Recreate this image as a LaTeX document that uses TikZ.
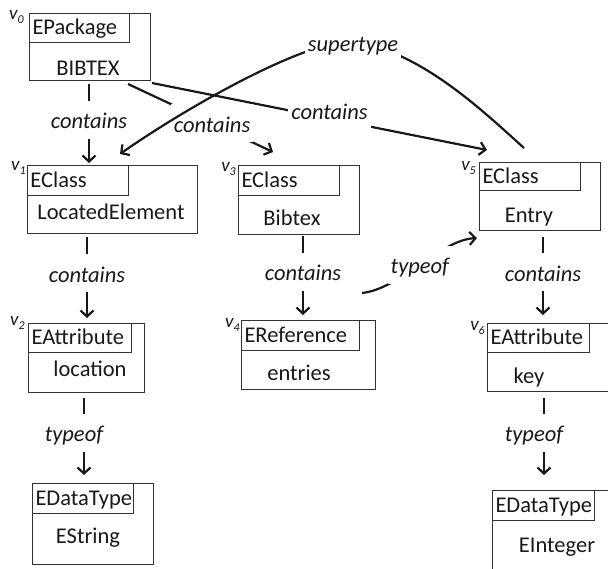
\documentclass[tikz,border=0pt]{standalone}
\usepackage{fontspec}
\setmainfont{Carlito}
\usetikzlibrary{calc,arrows.meta}
\begin{document}
\begin{tikzpicture}[x=1pt,y=-1pt,
  box/.style={draw=black!80, line width=1pt, inner sep=0pt, anchor=north west},
  hdr/.style={draw=black!80, line width=1pt, inner xsep=3pt, inner ysep=0pt, anchor=north west,
    align=left, font=\fontsize{22.5pt}{26pt}\selectfont, text=black!90, text height=13pt, text depth=0pt},
  body/.style={anchor=base, inner sep=0pt, font=\fontsize{22.5pt}{26pt}\selectfont, text=black!90},
  vl/.style={anchor=base east, inner sep=0pt, font=\fontsize{19pt}{21pt}\selectfont\itshape, text=black!90},
  conn/.style={line width=2.2pt, draw=black!90},
  arr/.style={conn, -{Straight Barb[length=6pt,width=13pt]}},
  lbl/.style={fill=white, inner xsep=3pt, inner ysep=10pt, text height=18pt, text depth=0pt,
    font=\fontsize{22.5pt}{26pt}\selectfont\itshape, text=black!90}
]
\useasboundingbox (0,0) rectangle (608,568);
\clip (0,0) rectangle (608,568);

% v0
\node[box, minimum width=121, minimum height=67] (v0) at (29,13) {};
\node[hdr, text width=94, minimum height=29] (v0h) at (v0.north west) {EPackage};
\node[body] (v0n) at (88,75) {BIBTEX};
\node[vl] (v0l) at ($(v0.north west)+(-5,6.5)$) {v\raisebox{-4pt}{\fontsize{12pt}{12pt}\selectfont 0}};

% v1
\node[box, minimum width=170, minimum height=68] (v1) at (27,165) {};
\node[hdr, text width=95, minimum height=30] (v1h) at (v1.north west) {EClass};
\node[body] (v1n) at (111,219) {LocatedElement};
\node[vl] (v1l) at ($(v1.north west)+(-1,5)$) {v\raisebox{-4pt}{\fontsize{12pt}{12pt}\selectfont 1}};

% v2
\node[box, minimum width=116, minimum height=69] (v2) at (28,323) {};
\node[hdr, text width=97, minimum height=29] (v2h) at (v2.north west) {EAttribute};
\node[body] (v2n) at (90,376) {location};
\node[vl] (v2l) at ($(v2.north west)+(-3,2)$) {v\raisebox{-4pt}{\fontsize{12pt}{12pt}\selectfont 2}};

% v3
\node[box, minimum width=121, minimum height=69] (v3) at (238,165) {};
\node[hdr, text width=95, minimum height=30] (v3h) at (v3.north west) {EClass};
\node[body] (v3n) at (292,225) {Bibtex};
\node[vl] (v3l) at ($(v3.north west)+(-2,6)$) {v\raisebox{-4pt}{\fontsize{12pt}{12pt}\selectfont 3}};

% v4
\node[box, minimum width=134, minimum height=69] (v4) at (241,320) {};
\node[hdr, text width=112, minimum height=30] (v4h) at (v4.north west) {EReference};
\node[body] (v4n) at (299,380) {entries};
\node[vl] (v4l) at ($(v4.north west)+(-1,7)$) {v\raisebox{-4pt}{\fontsize{12pt}{12pt}\selectfont 4}};

% v5
\node[box, minimum width=121, minimum height=68] (v5) at (479,162) {};
\node[hdr, text width=95, minimum height=28] (v5h) at (v5.north west) {EClass};
\node[body] (v5n) at (529,222) {Entry};
\node[vl] (v5l) at ($(v5.north west)+(-3,8)$) {v\raisebox{-4pt}{\fontsize{12pt}{12pt}\selectfont 5}};

% v6
\node[box, minimum width=130, minimum height=68] (v6) at (487,323) {};
\node[hdr, text width=96, minimum height=29] (v6h) at (v6.north west) {EAttribute};
\node[body] (v6n) at (529,383) {key};
\node[vl] (v6l) at ($(v6.north west)+(-2,7)$) {v\raisebox{-4pt}{\fontsize{12pt}{12pt}\selectfont 6}};

% EString
\node[box, minimum width=121, minimum height=81] (es) at (32,483) {};
\node[hdr, text width=95, minimum height=30] (esh) at (es.north west) {EDataType};
\node[body] (esn) at (88,543) {EString};

% EInteger
\node[box, minimum width=130, minimum height=100] (ei) at (492,490) {};
\node[hdr, text width=96, minimum height=30] (eih) at (ei.north west) {EDataType};
\node[body] (ein) at (557,552) {EInteger};

% vertical connectors
\draw[arr] ($(v0.south west)+(60,3)$) -- node[lbl,pos=.45]{contains} ($(v1.north west)+(62,-2)$);
\draw[arr] ($(v1.south west)+(60,3)$) -- node[lbl,pos=.45]{contains} ($(v2.north west)+(59,-5)$);
\draw[arr] ($(v2.south west)+(56,5)$) -- node[lbl,pos=.45,xshift=-10pt]{typeof} ($(es.north west)+(52,-8)$);
\draw[arr] ($(v3.south west)+(65,1)$) -- node[lbl,pos=.45]{contains} ($(v4.north west)+(62,-5)$);
\draw[arr] ($(v5.south west)+(64,6)$) -- node[lbl,pos=.45]{contains} ($(v6.north west)+(56,-8)$);
\draw[arr] ($(v6.south west)+(57,6)$) -- node[lbl,pos=.45,xshift=-10pt]{typeof} ($(ei.north west)+(52,-15)$);

% diagonal connectors
\draw[arr] ($(v0.south east)+(1,2)$) -- node[lbl,pos=.53,yshift=8pt]{contains} ($(v5.north west)+(8,-12)$);
\draw[arr] ($(v0.south west)+(99,3)$) -- node[lbl,pos=.58]{contains} ($(v3.north west)+(35,-13)$);

% supertype
\coordinate (stc) at (353,42);
\draw[arr] ($(v5.north west)+(45,-14)$) .. controls (485,113) and (420,50) .. (stc)
  .. controls (310,38) and (190,105) .. ($(v1.north west)+(93,-11)$);
\node[lbl] (st) at (stc) {supertype};

% typeof v4 -> v5
\draw[arr] ($(v4.north west)+(121,-27)$) .. controls (400,289) and (440,240) .. node[lbl,pos=.5]{typeof} ($(v5.south west)+(-2,7)$);
\end{tikzpicture}
\end{document}
